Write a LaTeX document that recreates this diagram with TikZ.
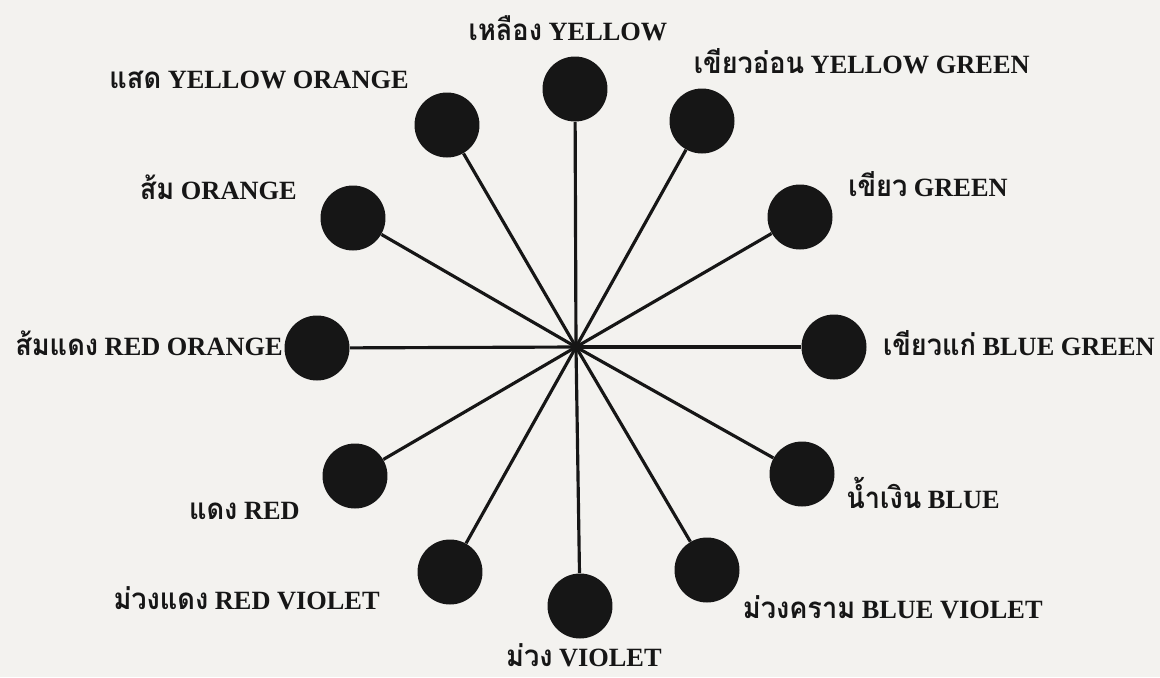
\documentclass[tikz,border=0pt]{standalone}
\usepackage{fontspec}
\setmainfont{Liberation Serif}
\newfontfamily\thaifont[Script=Thai,Scale=1.12]{Loma}
\newcommand{\thw}[1]{\scalebox{0.92}[1]{\thaifont #1}}
\definecolor{paper}{RGB}{243,242,239}
\definecolor{ink}{RGB}{22,22,22}
\tikzset{
  dot/.style={circle,fill=ink,minimum size=1.3cm,inner sep=0pt},
  spoke/.style={ink,line width=1.8pt},
  huename/.style={font=\fontsize{15}{17}\selectfont\bfseries,text=ink,inner sep=0pt}
}
\begin{document}
\begin{tikzpicture}[x=0.02cm,y=-0.02cm]
  \fill[paper] (0,0) rectangle (1160,677);
  \useasboundingbox (0,0) rectangle (1160,677);
  % Hub of the wheel.
  \coordinate (hub) at (576,347);
  % Twelve hues round the hub.
  \node[dot] (yellow) at (575,89) {};
  \node[dot] (yellowgreen) at (702,121) {};
  \node[dot] (green) at (800,217) {};
  \node[dot] (bluegreen) at (834,347) {};
  \node[dot] (blue) at (802,474) {};
  \node[dot] (blueviolet) at (707,570) {};
  \node[dot] (violet) at (580,606) {};
  \node[dot] (redviolet) at (450,572) {};
  \node[dot] (red) at (355,476) {};
  \node[dot] (redorange) at (317,348) {};
  \node[dot] (orange) at (353,218) {};
  \node[dot] (yelloworange) at (447,125) {};
  \foreach \hue in {yellow,yellowgreen,green,bluegreen,blue,blueviolet,
                    violet,redviolet,red,redorange,orange,yelloworange}
    \draw[spoke] (hub) -- (\hue);
  % Thai and English names.
  \node[huename,anchor=base] (yellowname) at (568,40) {\thw{เหลือง} YELLOW};
  \node[huename,anchor=base east] (yellowgreenname) at (1030,73) {\thw{เขียวอ่อน} YELLOW GREEN};
  \node[huename,anchor=base east] (greenname) at (1008,196) {\thw{เขียว} GREEN};
  \node[huename,anchor=base east] (bluegreenname) at (1155,355) {\thw{เขียวแก่} BLUE GREEN};
  \node[huename,anchor=base east] (bluename) at (1000,508) {\thw{น้ำเงิน} BLUE};
  \node[huename,anchor=base east] (bluevioletname) at (1043,618) {\thw{ม่วงคราม} BLUE VIOLET};
  \node[huename,anchor=base east] (violetname) at (662,666) {\thw{ม่วง} VIOLET};
  \node[huename,anchor=base east] (redvioletname) at (380,609) {\thw{ม่วงแดง} RED VIOLET};
  \node[huename,anchor=base east] (redname) at (300,519) {\thw{แดง} RED};
  \node[huename,anchor=base east] (redorangename) at (283,355) {\thw{ส้มแดง} RED ORANGE};
  \node[huename,anchor=base east] (orangename) at (297,199) {\thw{ส้ม} ORANGE};
  \node[huename,anchor=base east] (yelloworangename) at (409,88) {\thw{แสด} YELLOW ORANGE};
\end{tikzpicture}
\end{document}
